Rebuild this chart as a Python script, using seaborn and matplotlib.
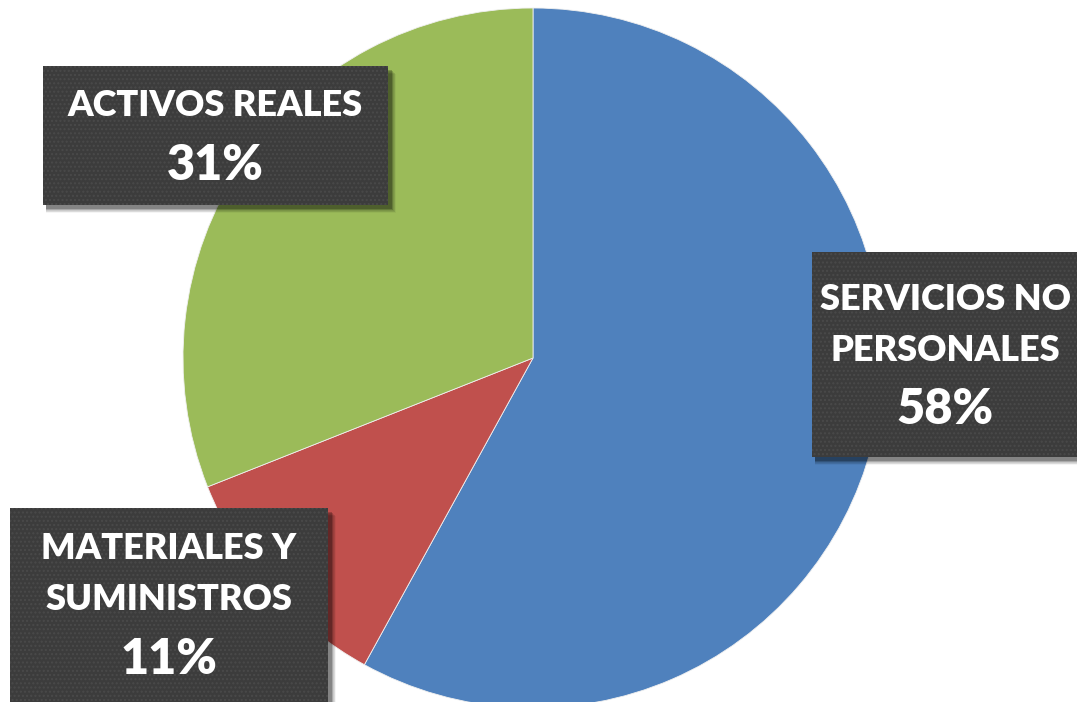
import matplotlib
matplotlib.use('Agg')
import matplotlib.pyplot as plt
from matplotlib.patches import Rectangle
import seaborn as sns

# datos del gráfico
categorias = ['SERVICIOS NO\nPERSONALES', 'MATERIALES Y\nSUMINISTROS', 'ACTIVOS REALES']
porcentajes = [58, 11, 31]
colores = ['#4F81BD', '#C0504D', '#9BBB59']

sns.set_theme(style='white')
plt.rcParams['font.family'] = ['Lato', 'DejaVu Sans']

W, H = 1077, 702
fig = plt.figure(figsize=(W / 100, H / 100), dpi=100)
ax = fig.add_axes([0, 0, 1, 1])

# pie en coordenadas de pixel (y hacia arriba)
ax.pie(porcentajes, colors=sns.color_palette(colores), startangle=90, counterclock=False,
       center=(533, H - 358), radius=350, frame=True,
       wedgeprops={'linewidth': 0.6, 'edgecolor': '#f0f0f0'})
ax.set_xlim(0, W)
ax.set_ylim(0, H)
ax.set_aspect('equal')
ax.axis('off')

# cajas de etiquetas: (x0, y0_top, ancho, alto, centro_x, y_texto, y_pct)
cajas = {
    'SERVICIOS NO\nPERSONALES': (812, 252, 270, 205, 945, 325, 410),
    'MATERIALES Y\nSUMINISTROS': (10, 508, 318, 200, 169, 574, 659),
    'ACTIVOS REALES': (43, 66, 345, 139, 215, 105, 165),
}

for cat, pct in zip(categorias, porcentajes):
    x0, top, w, h, cx, ty, py = cajas[cat]
    y0 = H - top - h
    # sombra difusa
    for k, a in zip(range(8, 0, -1), [0.04, 0.05, 0.06, 0.07, 0.08, 0.09, 0.1, 0.12]):
        ax.add_patch(Rectangle((x0 + 3, y0 - 3 - k * 0.6), w + k * 0.6, h, facecolor='black',
                               edgecolor='none', alpha=a, zorder=3))
    ax.add_patch(Rectangle((x0, y0), w, h, facecolor='#3c3c3c', edgecolor='#4a4a4a',
                           hatch='....', linewidth=0, zorder=4))
    ax.text(cx, H - ty, cat, ha='center', va='center', color='white', fontsize=26,
            fontweight='heavy', linespacing=1.65, zorder=5)
    ax.text(cx, H - py, f'{pct}%', ha='center', va='center', color='white', fontsize=35,
            fontweight='heavy', zorder=5)

fig.savefig('out.png', dpi=100, facecolor='white')
